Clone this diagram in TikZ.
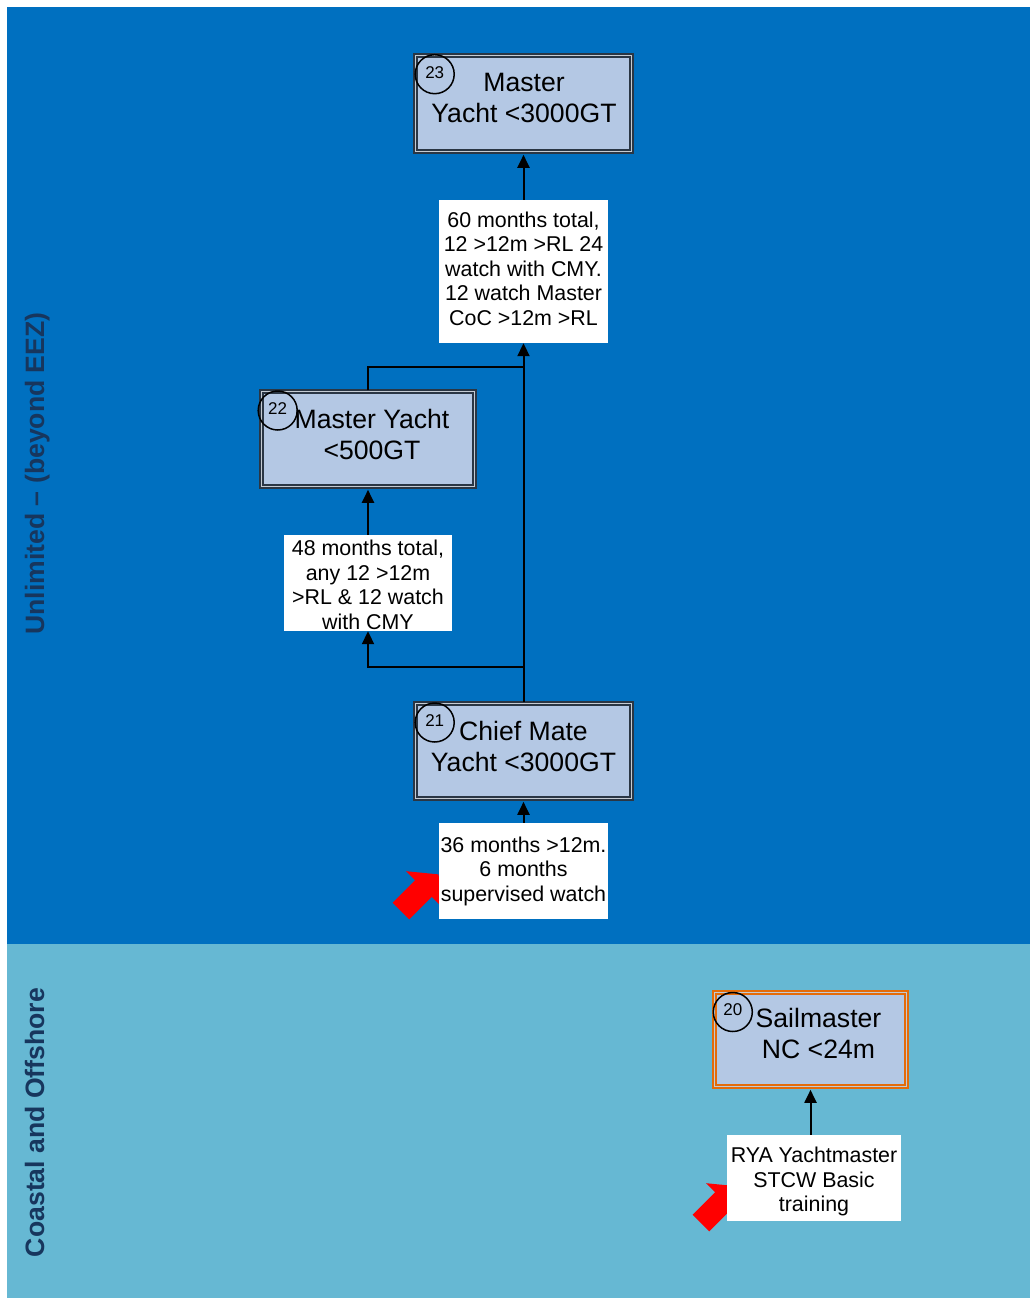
\documentclass[tikz,border=0pt]{standalone}
\usepackage{fontspec}
\setmainfont{Liberation Sans}
\usetikzlibrary{arrows.meta}
\definecolor{deepblue}{HTML}{0070C0}
\definecolor{lightaqua}{HTML}{66B8D3}
\definecolor{boxfill}{HTML}{B4C8E4}
\definecolor{boxline}{HTML}{2A3644}
\definecolor{boxgap}{HTML}{C4CBD3}
\definecolor{orangeline}{HTML}{E46C0A}
\definecolor{sidetext}{HTML}{17365D}
\begin{document}
\begin{tikzpicture}[x=1pt,y=-1pt,
  sidelabel/.style={rotate=90, anchor=base, inner sep=0, text=sidetext,
    font=\fontsize{26.6}{30}\selectfont\bfseries},
  box/.style={draw=boxline, double=boxgap, line width=1.6pt, double distance=1.4pt,
    fill=boxfill, inner sep=0},
  orangebox/.style={box, draw=orangeline},
  boxtext/.style={align=center, inner sep=0, font=\fontsize{26.6}{31}\selectfont},
  numcirc/.style={circle, draw=black, line width=1.5pt, minimum size=39pt, inner sep=0,
    font=\fontsize{17}{17}\selectfont, text depth=4pt},
  lbl/.style={fill=white, inner sep=0, align=center, font=\fontsize{21.4}{24.5}\selectfont},
  conn/.style={line width=2pt, -{Triangle[width=12pt,length=13pt]}},
  plainline/.style={line width=2pt},
  redarrow/.style={fill=red}
]
\useasboundingbox (0,0) rectangle (1030,1298);
% zones
\fill[deepblue] (7,7) rectangle (1030,944);
\fill[lightaqua] (7,944) rectangle (1030,1298);
\node[sidelabel] (zoneU) at (44,473.5) {Unlimited – (beyond EEZ)};
\node[sidelabel] (zoneC) at (44,1122.5) {Coastal and Offshore};

% red pointer arrows
\fill[redarrow] (438.6,874.4) -- (440.8,905.8) -- (431.8,896.8) -- (409.2,919.4)
  -- (392.6,902.8) -- (415.2,880.2) -- (406.2,871.2) -- cycle;
\begin{scope}[shift={(300,312)}]
\fill[redarrow] (438.6,874.4) -- (440.8,905.8) -- (431.8,896.8) -- (409.2,919.4)
  -- (392.6,902.8) -- (415.2,880.2) -- (406.2,871.2) -- cycle;
\end{scope}

% boxes
\node[box, minimum width=216.5pt, minimum height=96.5pt] (n23) at (523.5,103.5) {};
\node[box, minimum width=213.5pt, minimum height=95.5pt] (n22) at (368,439) {};
\node[box, minimum width=216.5pt, minimum height=95.5pt] (n21) at (523.5,751) {};
\node[orangebox, minimum width=192.5pt, minimum height=94.5pt] (n20) at (810.5,1039.5) {};

% requirement labels
\node[lbl, minimum width=169pt, minimum height=143pt] (L1) at (523.5,271.5)
  {60 months total,\\12 >12m >RL 24\\watch with CMY.\\12 watch Master\\CoC >12m >RL\rule[-6pt]{0pt}{6pt}};
\node[lbl, minimum width=168pt, minimum height=96pt] (L2) at (368,583)
  {\rule{0pt}{19.6pt}48 months total,\\any 12 >12m\\>RL \& 12 watch\\with CMY};
\node[lbl, minimum width=169pt, minimum height=96pt] (L3) at (523.5,871)
  {36 months >12m.\\6 months\\supervised watch};
\node[lbl, minimum width=174pt, minimum height=86pt] (L4) at (814,1178)
  {\rule{0pt}{22.6pt}RYA Yachtmaster\\STCW Basic\\training};

% connectors
\coordinate (j1) at (523.5,367);
\coordinate (j2) at (523.5,667);
\draw[conn, shorten >=2.25pt] (L1.north) -- (n23.south);
\draw[plainline] (n22.north) |- (j1);
\draw[conn] (n21.north) -- (L1.south);
\draw[conn] (j2) -| (L2.south);
\draw[conn, shorten >=2.25pt] (L2.north) -- (n22.south);
\draw[conn, shorten >=2.25pt] (L3.north) -- (n21.south);
\draw[conn, shorten >=2.25pt] (n20.south |- L4.north) -- (n20.south);

% box texts
\node[boxtext] (t23) at (524,98) {Master\\Yacht <3000GT};
\node[boxtext] (t22) at (372,434) {Master Yacht\\<500GT};
\node[boxtext] (t21) at (523.5,746) {Chief Mate\\Yacht <3000GT};
\node[boxtext] (t20) at (818.5,1033.5) {Sailmaster\\NC <24m};

% number circles
\node[numcirc] (c23) at (434.7,74.2) {23};
\node[numcirc] (c22) at (277.7,410.5) {22};
\node[numcirc] (c21) at (434.7,722.5) {21};
\node[numcirc] (c20) at (732.8,1012) {20};
\end{tikzpicture}
\end{document}
